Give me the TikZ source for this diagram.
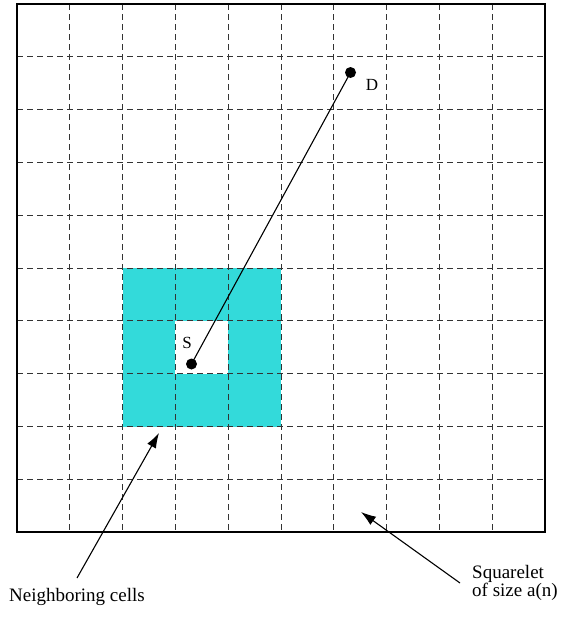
\documentclass[tikz,border=0pt]{standalone}
\usepackage{fontspec}
\setmainfont{Liberation Serif}
\usetikzlibrary{arrows.meta}
\definecolor{cellCyan}{HTML}{33DADA}
\definecolor{gridDark}{HTML}{333333}

\begin{document}
\begin{tikzpicture}[x=1pt,y=-1pt,font=\fontsize{19}{17}\selectfont,
  gridLine/.style={gridDark,line width=0.9pt,dash pattern=on 6pt off 4pt},
  dotNode/.style={circle,fill=black,inner sep=0pt,minimum size=11pt},
  pointer/.style={-{Latex[length=15pt,width=10pt]},line width=1.1pt},
  ptLabel/.style={font=\fontsize{17}{17}\selectfont,inner sep=0pt}]
  \useasboundingbox (0,0) rectangle (561,621);

  % neighbouring cells round the source cell
  \fill[cellCyan] (122.6,268.4) rectangle (281,426.8);
  \fill[white] (175.4,321.2) rectangle (228.2,374);

  % squarelets
  \foreach \k in {1,...,9} {
    \draw[gridLine] (17+52.8*\k,4) -- (17+52.8*\k,532);
    \draw[gridLine] (17,4+52.8*\k) -- (545,4+52.8*\k);
  }
  \draw[line width=1.8pt] (17,4) rectangle (545,532);

  \node[dotNode] (src) at (191.5,364) {};
  \node[dotNode] (dst) at (350.5,72.5) {};
  \draw[line width=1.1pt] (src.center) -- (dst.center);
  \node[ptLabel] (srcLab) at (187,343) {S};
  \node[ptLabel] (dstLab) at (372,85) {D};

  \coordinate (cellTip) at (159,433);
  \node[anchor=north,inner xsep=2pt,inner ysep=10pt] (cellLab) at (77,578)
    {Neighboring cells};
  \draw[pointer] (cellLab.north) -- (cellTip);

  \coordinate (sqTip) at (361,512);
  \node[anchor=west,align=left,inner xsep=12pt,inner ysep=0pt] (sqLab) at (460,583)
    {Squarelet\\of size a(n)};
  \draw[pointer] (sqLab.west) -- (sqTip);
\end{tikzpicture}
\end{document}
